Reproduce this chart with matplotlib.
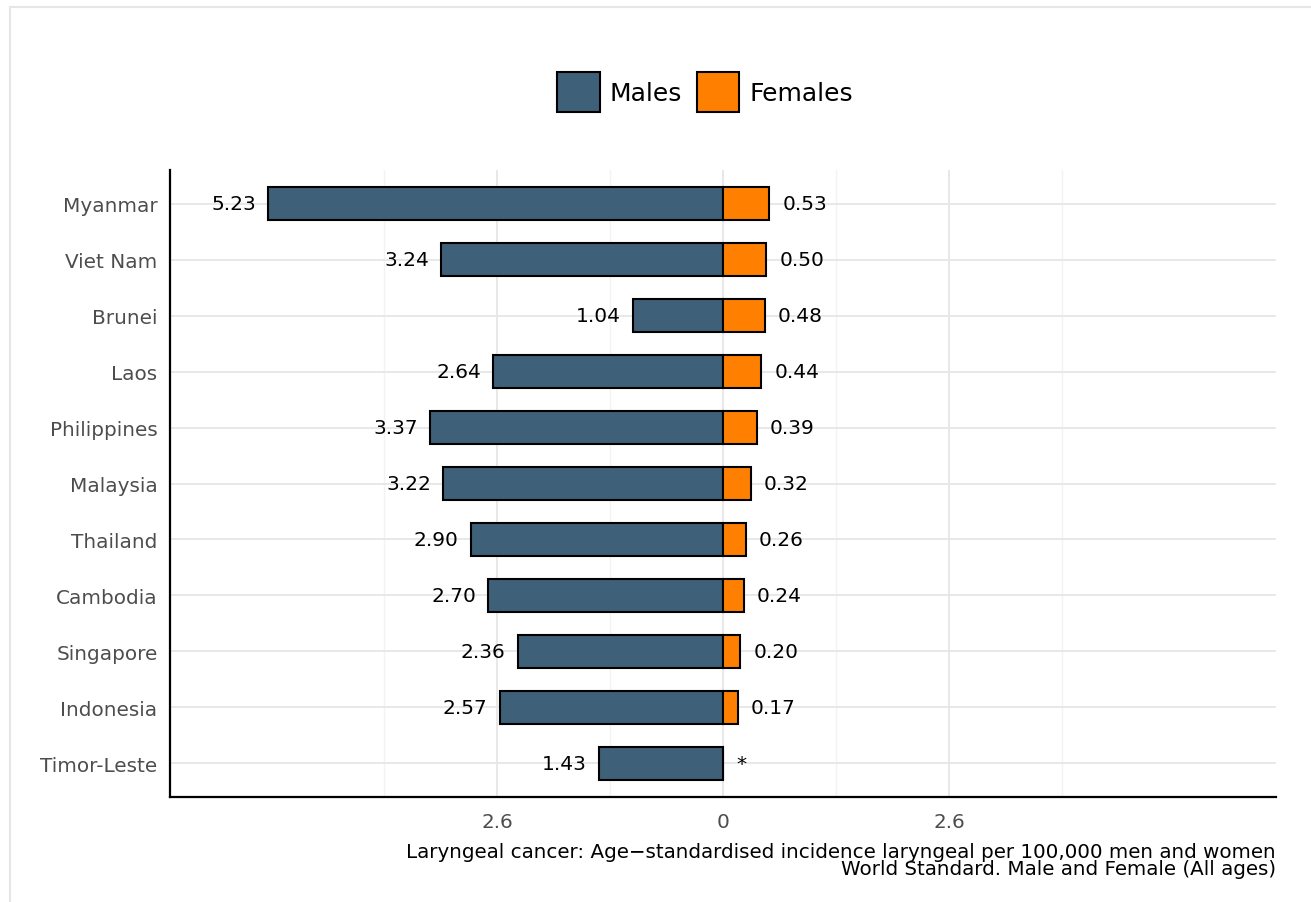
import numpy as np
import matplotlib
matplotlib.use("Agg")
import matplotlib.pyplot as plt
from matplotlib.patches import Patch, Rectangle

countries = ["Myanmar", "Viet Nam", "Brunei", "Laos", "Philippines", "Malaysia",
             "Thailand", "Cambodia", "Singapore", "Indonesia", "Timor-Leste"]
males = [5.23, 3.24, 1.04, 2.64, 3.37, 3.22, 2.90, 2.70, 2.36, 2.57, 1.43]
females = [0.53, 0.50, 0.48, 0.44, 0.39, 0.32, 0.26, 0.24, 0.20, 0.17, np.nan]
major_ticks = [-2.6, 0, 2.6]
major_labels = ["2.6", "0", "2.6"]
minor_ticks = [-3.9, -1.3, 1.3, 3.9]
caption = ("Laryngeal cancer: Age\u2212standardised incidence laryngeal per 100,000 men and women\n"
           "World Standard. Male and Female (All ages)")

C_M, C_F = "#3e6079", "#ff8000"

fig = plt.figure(figsize=(13.11, 9.03), dpi=100)
# light panel border (partly cut off like the source)
fig.patches.append(Rectangle((10 / 1311, -0.05), 1.2, 1 - 8 / 903 + 0.05,
                             transform=fig.transFigure, fill=False,
                             edgecolor="#e6e6e6", lw=1.5))
ax = fig.add_axes([170 / 1311, 1 - 798 / 903, 1106 / 1311, 627 / 903])

y = np.arange(len(countries))
ax.barh(y, [-m for m in males], height=0.6, color=C_M, edgecolor="black", lw=1.5, zorder=3)
ax.barh(y, np.nan_to_num(females), height=0.6, color=C_F, edgecolor="black", lw=1.5, zorder=3)

for yi, m, f in zip(y, males, females):
    ax.text(-m - 0.14, yi, f"{m:.2f}", ha="right", va="center", fontsize=14.5, zorder=4)
    lab = "*" if np.isnan(f) else f"{f:.2f}"
    ax.text((0 if np.isnan(f) else f) + 0.15, yi, lab, ha="left", va="center",
            fontsize=14.5, zorder=4)

ax.set_xlim(-6.36, 6.36)
ax.set_ylim(len(countries) - 0.4, -0.6)
ax.set_yticks(y, countries)
ax.set_xticks(major_ticks, major_labels)
ax.set_xticks(minor_ticks, minor=True)
ax.tick_params(axis="both", which="both", length=0, labelsize=14.4, colors="#4d4d4d")
ax.tick_params(axis="x", pad=11)
ax.tick_params(axis="y", pad=9)

ax.grid(axis="y", color="#e6e6e6", lw=1.3, zorder=0)
ax.grid(axis="x", which="major", color="#e6e6e6", lw=1.3, zorder=0)
ax.grid(axis="x", which="minor", color="#f3f3f3", lw=1.0, zorder=0)
ax.set_axisbelow(True)
for s in ["top", "right"]:
    ax.spines[s].set_visible(False)
for s in ["left", "bottom"]:
    ax.spines[s].set_linewidth(1.6)
    ax.spines[s].set_color("black")

handles = [Patch(facecolor=C_M, edgecolor="black", lw=1.5, label="Males"),
           Patch(facecolor=C_F, edgecolor="black", lw=1.5, label="Females")]
fig.legend(handles=handles, loc="center", bbox_to_anchor=(705 / 1311, 1 - 93 / 903),
           ncol=2, frameon=False, fontsize=18, handlelength=1.7, handleheight=2.14,
           handletextpad=0.4, columnspacing=0.6)

fig.text(1276 / 1311, 1 - 843 / 903, caption, ha="right", va="top", fontsize=14.35,
         linespacing=0.88)

fig.savefig("out.png", dpi=100)
